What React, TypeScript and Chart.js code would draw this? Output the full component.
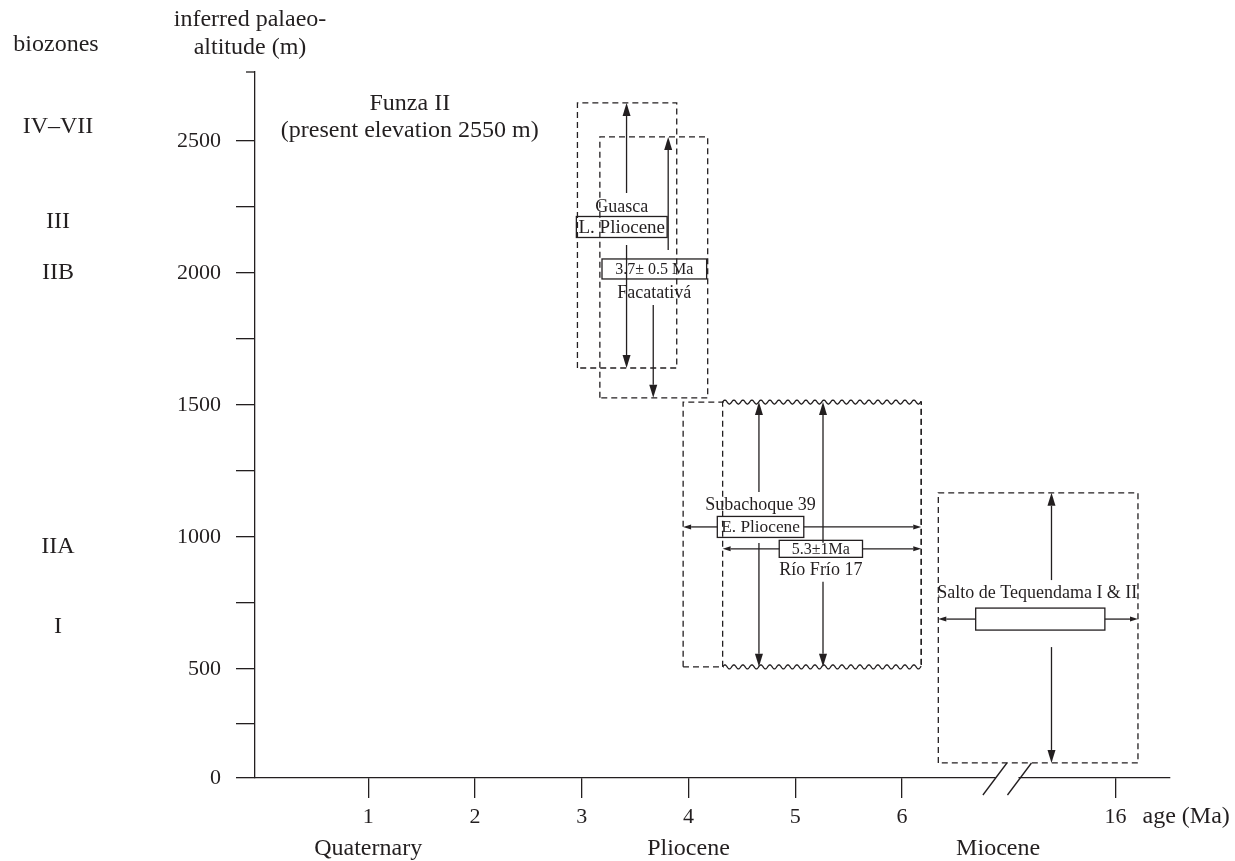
import React, { useEffect, useRef } from "react";
import { Chart, registerables, LinearScale } from "chart.js";

// ---------------- data ----------------
const xTickPositions = [1, 2, 3, 4, 5, 6, 8];
const xTickLabels = ["1", "2", "3", "4", "5", "6", "16"];
const xBreakPositions = [6.87, 7.1];
const xAxisTitle = "age (Ma)";
const epochNames = ["Quaternary", "Pliocene", "Miocene"];
const epochPositions = [1, 4, 6.9];

const yTickValues = [0, 250, 500, 750, 1000, 1250, 1500, 1750, 2000, 2250, 2500];
const yLabelStep = 500;
const yAxisMin = 0;
const yAxisMax = 2761;
const yAxisTitle = ["inferred palaeo-", "altitude (m)"];

const biozoneTitle = "biozones";
const biozoneNames = ["IV–VII", "III", "IIB", "IIA", "I"];
const biozoneAltitudes = [2553, 2193, 2000, 962, 659];

const funzaLines = ["Funza II", "(present elevation 2550 m)"];
const funzaAge = 1.39;
const funzaAltitude = 2550;

const sites = ["Guasca", "Facatativá", "Subachoque 39", "Río Frío 17", "Salto de Tequendama I & II"];
const ageLabels = ["L. Pliocene", "3.7± 0.5 Ma", "E. Pliocene", "5.3±1Ma", ""];
const ageMin = [2.96, 3.17, 3.95, 4.32, 6.34];
const ageMax = [3.89, 4.18, 6.18, 6.18, 8.21];
const altMin = [1640, 1527, 508, 508, 69];
const altMax = [2644, 2515, 1511, 1511, 1167];
const ageBoxMin = [2.95, 3.19, 4.27, 4.85, 6.69];
const ageBoxMax = [3.8, 4.17, 5.08, 5.63, 7.9];
const altBest = [2174, 2015, 1038, 955, 689];
const arrowAgeUp = [3.42, 3.81, 4.66, 5.26, 7.4];
const arrowAgeDown = [3.42, 3.67, 4.66, 5.26, 7.4];
const hasAgeArrows = [false, false, true, true, true];
const wavyEdges = [false, false, false, true, false];

// ---------------- styles ----------------
const FONT = "'Liberation Serif', 'Times New Roman', serif";
const INK = "#231f20";
const LW = 1.3;
const BIG = 24;
const labelBoxHeight = [21, 20, 21, 17, 22];
const labelFontSize = [19, 16, 17.3, 16, 16];
const nameOffset = [-20, 24, -22, 21, -26];
const upGap = [34, 19, 35, 6, 39];
const downGap = [18, 36, 16, 33, 28];

// altitude axis is drawn compressed below 500 m (as in the original figure)
const COMPRESS_BELOW = 500;
const COMPRESS_RATIO = 109 / 132;
const warp = (v: number) => (v >= COMPRESS_BELOW ? v : COMPRESS_BELOW - (COMPRESS_BELOW - v) * COMPRESS_RATIO);
const unwarp = (w: number) => (w >= COMPRESS_BELOW ? w : COMPRESS_BELOW - (COMPRESS_BELOW - w) / COMPRESS_RATIO);

class CompressedLinearScale extends (LinearScale as any) {
  static id = "compressedLinear";
  static defaults = (LinearScale as any).defaults;
  getPixelForValue(value: number) {
    return super.getPixelForValue(warp(value));
  }
  getValueForPixel(pixel: number) {
    return unwarp(super.getValueForPixel(pixel));
  }
}

Chart.register(...registerables, CompressedLinearScale as any);

function arrow(ctx: CanvasRenderingContext2D, x1: number, y1: number, x2: number, y2: number, len: number, half: number) {
  const ang = Math.atan2(y2 - y1, x2 - x1);
  const bx = x2 - Math.cos(ang) * len;
  const by = y2 - Math.sin(ang) * len;
  ctx.beginPath();
  ctx.moveTo(x1, y1);
  ctx.lineTo(bx, by);
  ctx.stroke();
  ctx.beginPath();
  ctx.moveTo(x2, y2);
  ctx.lineTo(bx + Math.sin(ang) * half, by - Math.cos(ang) * half);
  ctx.lineTo(bx - Math.sin(ang) * half, by + Math.cos(ang) * half);
  ctx.closePath();
  ctx.fill();
}

function wavy(ctx: CanvasRenderingContext2D, x0: number, x1: number, y: number) {
  const amp = 2;
  const period = 9;
  ctx.beginPath();
  for (let x = x0; x <= x1; x += 0.5) {
    const yy = y - amp * Math.sin((2 * Math.PI * (x - x0)) / period);
    if (x === x0) ctx.moveTo(x, yy);
    else ctx.lineTo(x, yy);
  }
  ctx.stroke();
}

const annotate = {
  id: "annotate",
  afterDatasetsDraw(chart: any) {
    const ctx: CanvasRenderingContext2D = chart.ctx;
    const xs = chart.scales.x;
    const ys = chart.scales.y;
    const area = chart.chartArea;
    const X = (v: number) => xs.getPixelForValue(v);
    const Y = (v: number) => ys.getPixelForValue(v);
    ctx.save();
    ctx.strokeStyle = INK;
    ctx.fillStyle = INK;
    ctx.lineWidth = LW;
    ctx.setLineDash([]);

    // wavy (unconformity) edges
    sites.forEach((_, i) => {
      if (!wavyEdges[i]) return;
      const x0 = X(ageMin[i]);
      const x1 = X(ageMax[i]);
      [altMax[i], altMin[i]].forEach((a) => {
        const y = Y(a);
        ctx.fillStyle = "#fff";
        ctx.fillRect(x0 + 1, y - 3, x1 - x0 - 2, 6);
        ctx.fillStyle = INK;
        wavy(ctx, x0, x1, y);
      });
    });

    // arrows and label boxes
    sites.forEach((name, i) => {
      const yc = Y(altBest[i]);
      const h = labelBoxHeight[i];
      const bx0 = X(ageBoxMin[i]);
      const bx1 = X(ageBoxMax[i]);
      if (hasAgeArrows[i]) {
        arrow(ctx, bx0, yc, X(ageMin[i]), yc, 8, 2.5);
        arrow(ctx, bx1, yc, X(ageMax[i]), yc, 8, 2.5);
      }
      arrow(ctx, X(arrowAgeUp[i]), yc - upGap[i], X(arrowAgeUp[i]), Y(altMax[i]), 13, 4);
      arrow(ctx, X(arrowAgeDown[i]), yc + downGap[i], X(arrowAgeDown[i]), Y(altMin[i]), 13, 4);
      ctx.strokeRect(bx0, yc - h / 2, bx1 - bx0, h);
      ctx.textAlign = "center";
      ctx.textBaseline = "middle";
      if (ageLabels[i]) {
        ctx.font = `${labelFontSize[i]}px ${FONT}`;
        ctx.fillText(ageLabels[i], (bx0 + bx1) / 2, yc + 1);
      }
      ctx.font = `18px ${FONT}`;
      ctx.fillText(name, (bx0 + bx1) / 2 + (i === 4 ? -3 : 0), yc + nameOffset[i]);
    });

    // x axis break
    const ay = area.bottom;
    const b0 = X(xBreakPositions[0]);
    const b1 = X(xBreakPositions[1]);
    ctx.fillStyle = "#fff";
    ctx.fillRect(b0 + 1, ay - 2, b1 - b0 - 2, 4);
    ctx.fillStyle = INK;
    [b0, b1].forEach((b) => {
      ctx.beginPath();
      ctx.moveTo(b - 12, ay + 17);
      ctx.lineTo(b + 12, ay - 15);
      ctx.stroke();
    });

    // small stub at top of altitude axis
    ctx.beginPath();
    ctx.moveTo(area.left - 9, area.top);
    ctx.lineTo(area.left, area.top);
    ctx.stroke();

    // texts
    ctx.textAlign = "center";
    ctx.textBaseline = "middle";
    ctx.font = `${BIG}px ${FONT}`;
    ctx.fillText(yAxisTitle[0], area.left - 5, area.top - 52);
    ctx.fillText(yAxisTitle[1], area.left - 5, area.top - 24);
    ctx.fillText(biozoneTitle, 56, area.top - 27);
    biozoneNames.forEach((b, i) => ctx.fillText(b, 58, Y(biozoneAltitudes[i])));
    const fy = Y(funzaAltitude);
    ctx.fillText(funzaLines[0], X(funzaAge), fy - 24);
    ctx.fillText(funzaLines[1], X(funzaAge), fy + 3);
    epochNames.forEach((e, i) => ctx.fillText(e, X(epochPositions[i]), ay + 71));
    ctx.textAlign = "left";
    ctx.fillText(xAxisTitle, X(8) + 27, ay + 39);
    ctx.restore();
  },
};

export default function App() {
  const ref = useRef<HTMLCanvasElement | null>(null);
  useEffect(() => {
    if (!ref.current) return;
    Chart.defaults.font.family = FONT;
    Chart.defaults.color = INK;
    const datasets = sites.map((s, i) => ({
      label: s,
      data: [
        { x: ageMin[i], y: altMin[i] },
        { x: ageMin[i], y: altMax[i] },
        { x: ageMax[i], y: altMax[i] },
        { x: ageMax[i], y: altMin[i] },
        { x: ageMin[i], y: altMin[i] },
      ],
      showLine: true,
      borderColor: INK,
      borderWidth: LW,
      borderDash: [6, 4],
      pointRadius: 0,
      fill: false,
      tension: 0,
    }));
    const chart = new Chart(ref.current, {
      type: "scatter",
      data: { datasets },
      options: {
        animation: false,
        responsive: false,
        events: [],
        layout: { padding: { top: 72, right: 65, bottom: 0, left: 0 } },
        plugins: { legend: { display: false }, tooltip: { enabled: false } },
        scales: {
          x: {
            type: "linear",
            min: -0.06,
            max: 8.51,
            afterBuildTicks: (s: any) => {
              s.ticks = xTickPositions.map((v) => ({ value: v }));
            },
            afterFit: (s: any) => {
              s.height = 83;
            },
            ticks: {
              callback: (v: any) => {
                const k = xTickPositions.indexOf(Number(v));
                return k >= 0 ? xTickLabels[k] : "";
              },
              font: { size: 22, family: FONT },
              color: INK,
              padding: 6,
              maxRotation: 0,
              autoSkip: false,
            },
            grid: { drawOnChartArea: false, drawTicks: true, tickLength: 20, color: INK, lineWidth: LW },
            border: { display: true, color: INK, width: LW },
          },
          y: {
            type: "compressedLinear" as any,
            min: warp(yAxisMin),
            max: yAxisMax,
            bounds: "data",
            afterBuildTicks: (s: any) => {
              s.ticks = yTickValues.map((v) => ({ value: v }));
            },
            afterFit: (s: any) => {
              s.width = 255;
            },
            ticks: {
              callback: (v: any) => (Number(v) % yLabelStep === 0 ? String(v) : ""),
              font: { size: 22, family: FONT },
              color: INK,
              padding: 15,
              autoSkip: false,
            },
            grid: { drawOnChartArea: false, drawTicks: true, tickLength: 19, color: INK, lineWidth: LW },
            border: { display: true, color: INK, width: LW },
          } as any,
        },
      },
      plugins: [annotate],
    });
    return () => chart.destroy();
  }, []);
  return (
    <div style={{ position: "absolute", left: 0, top: 0, width: 1235, height: 861, background: "#fff" }}>
      <canvas ref={ref} width={1235} height={861} style={{ display: "block" }} />
    </div>
  );
}
